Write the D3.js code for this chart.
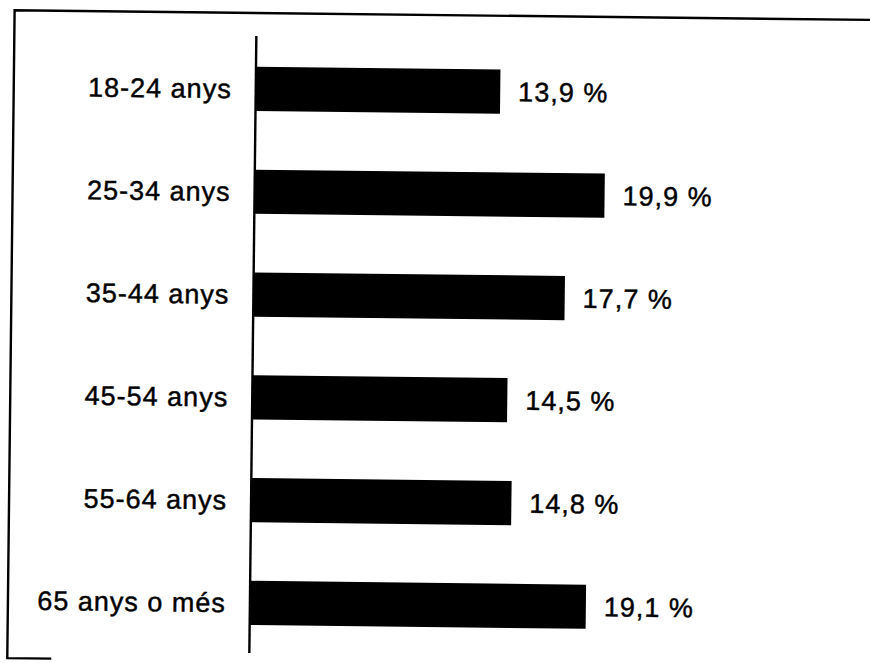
<!DOCTYPE html>
<html>
<head>
<meta charset="utf-8">
<script src="https://cdn.jsdelivr.net/npm/d3@7"></script>
<style>
  html, body { margin: 0; padding: 0; background: #fff; }
  svg { display: block; }
  text { font-family: "Liberation Sans", Arial, Helvetica, sans-serif; fill: #000; stroke: #000; stroke-width: 0.45px; }
</style>
</head>
<body>
<svg id="chart" width="870" height="663"></svg>
<script>
// ---- data ----
const categories = ["18-24 anys", "25-34 anys", "35-44 anys", "45-54 anys", "55-64 anys", "65 anys o més"];
const values = [13.9, 19.9, 17.7, 14.5, 14.8, 19.1];
const valueLabels = ["13,9 %", "19,9 %", "17,7 %", "14,5 %", "14,8 %", "19,1 %"];

// ---- layout ----
const W = 870, H = 663;
const axisX = 253, axisTop = 38, axisBottom = 655;
const fontSize = 27;

const svg = d3.select("#chart");
svg.append("rect").attr("width", W).attr("height", H).attr("fill", "#fff");

// the scanned original is slightly rotated
const g = svg.append("g").attr("transform", `rotate(0.65, ${W / 2}, ${H / 2})`);

// frame (left, top and a short piece of the bottom edge visible in the scan)
g.append("path")
  .attr("d", "M55,663 H11 V15 H900")
  .attr("fill", "none")
  .attr("stroke", "#000")
  .attr("stroke-width", 2.4);

const x = d3.scaleLinear().domain([0, 20]).range([axisX, axisX + 351.8]);
const y = d3.scaleBand()
  .domain(categories)
  .range([39.6, 656.4])
  .paddingInner(0.57)
  .paddingOuter(0.285);

const rows = categories.map((c, i) => ({ c, v: values[i], label: valueLabels[i] }));

// bars
g.selectAll("rect.bar")
  .data(rows)
  .join("rect")
  .attr("class", "bar")
  .attr("x", x(0))
  .attr("y", d => y(d.c))
  .attr("width", d => x(d.v) - x(0))
  .attr("height", y.bandwidth())
  .attr("fill", "#000");

// axis line
g.append("line")
  .attr("x1", axisX).attr("x2", axisX)
  .attr("y1", axisTop).attr("y2", axisBottom)
  .attr("stroke", "#000")
  .attr("stroke-width", 2.4);

// category labels
g.selectAll("text.cat")
  .data(rows)
  .join("text")
  .attr("class", "cat")
  .attr("x", axisX - 24)
  .attr("y", d => y(d.c) + y.bandwidth() / 2)
  .attr("dy", "0.35em")
  .attr("text-anchor", "end")
  .attr("font-size", fontSize)
  .attr("letter-spacing", "1px")
  .text(d => d.c);

// value labels
g.selectAll("text.val")
  .data(rows)
  .join("text")
  .attr("class", "val")
  .attr("x", d => x(d.v) + 18)
  .attr("y", d => y(d.c) + y.bandwidth() / 2)
  .attr("dy", "0.35em")
  .attr("text-anchor", "start")
  .attr("font-size", fontSize)
  .attr("letter-spacing", "1px")
  .text(d => d.label);
</script>
</body>
</html>
